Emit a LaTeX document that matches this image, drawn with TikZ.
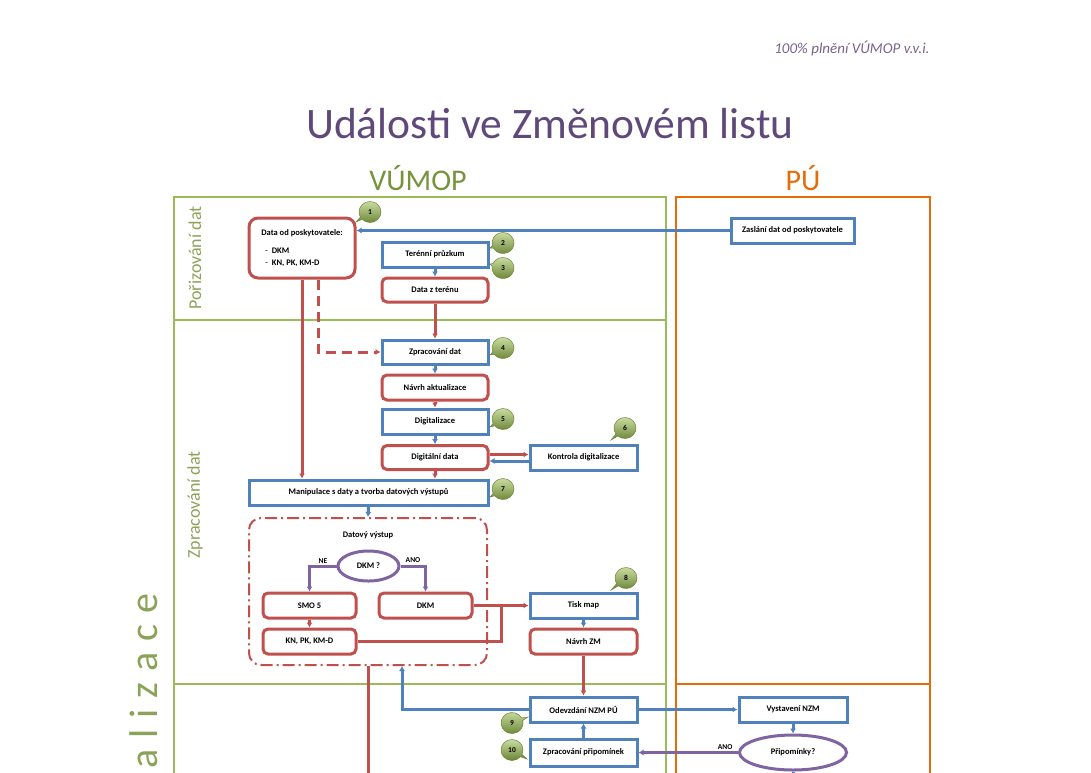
\documentclass[tikz,border=0pt]{standalone}
\usepackage{fontspec}
\setmainfont{Carlito}
\usetikzlibrary{shapes, shapes.callouts, positioning, calc, arrows.meta}

\definecolor{cervena}{HTML}{C0504D}
\definecolor{modra}{HTML}{4F81BD}
\definecolor{fialova}{HTML}{8064A2}
\definecolor{zelena}{HTML}{9BBB59}
\definecolor{tmavezelena}{HTML}{77933C}
\definecolor{svetlezelena}{HTML}{C9DCA0}
\definecolor{oranzova}{HTML}{E46C0A}
\definecolor{nadpis}{HTML}{5F497A}

\begin{document}
\begin{tikzpicture}[x=1pt, y=-1pt, > = {Latex[length=5pt, width=6pt]},
		krabice/.style = {fill=white, line width=3pt, font=\bfseries\fontsize{8.5}{10}\selectfont,
			minimum height=25pt, minimum width=106pt, inner sep=1pt},
		redbox/.style = {krabice, draw=cervena, rounded corners=5pt},
		bluebox/.style = {krabice, draw=modra},
		otazka/.style = {ellipse, draw=fialova, line width=3pt, fill=white,
			font=\bfseries\fontsize{8.5}{10}\selectfont, inner sep=0pt},
		redline/.style = {draw=cervena, line width=3pt},
		blueline/.style = {draw=modra, line width=3pt},
		purpleline/.style = {draw=fialova, line width=3pt},
		vetev/.style = {font=\bfseries\fontsize{7.5}{9}\selectfont, inner sep=1.5pt},
		badge/.style = {ellipse callout, draw=tmavezelena!90!black, line width=0.5pt, top color=svetlezelena,
			bottom color=tmavezelena!90!black, minimum width=22pt, minimum height=21pt, inner sep=0pt,
			font=\bfseries\fontsize{7.5}{8}\selectfont},
		lane/.style = {line width=2.8pt},
		lanetext/.style = {text=tmavezelena!85, font=\fontsize{18}{20}\selectfont, rotate=90}]
	\useasboundingbox (0,0) rectangle (1091,772);
	
	% hlavicka
	\node [font=\itshape\fontsize{15}{17}\selectfont, text=nadpis!85, anchor=base east] (plneni) at (933,53) {100\% plnění VÚMOP v.v.i.};
	\node [font=\fontsize{43.5}{48}\selectfont, text=nadpis, anchor=base] (nadpis) at (550,138) {Události ve Změnovém listu};
	\node [font=\fontsize{30}{34}\selectfont, text=tmavezelena, anchor=base] (vumop) at (418,190) {VÚMOP};
	\node [font=\fontsize{30}{34}\selectfont, text=oranzova, anchor=base] (pu) at (803,190) {PÚ};
	
	% drahy
	\draw [lane, draw=zelena] (174,800) -- (174,197) -- (666,197) -- (666,800);
	\draw [lane, draw=zelena] (174,320) -- (666,320);
	\draw [lane, draw=zelena] (174,684) -- (666,684);
	\draw [lane, draw=oranzova] (676,800) -- (676,197) -- (930,197) -- (930,800);
	\draw [lane, draw=oranzova] (676,684) -- (930,684);
	\node [lanetext] (porizovani) at (195,258) {Pořizování dat};
	\node [lanetext] (zpracovanidat) at (195,505) {Zpracování dat};
	\node [lanetext, font=\fontsize{40}{44}\selectfont, anchor=base] (realizace) at (157,681)
		{a\hspace{11pt}l\hspace{11pt}i\hspace{11pt}z\hspace{11pt}a\hspace{11pt}c\hspace{11pt}e};
	
	% porizovani dat
	\node [redbox, rounded corners=9pt, minimum height=60pt, align=left, font=\bfseries\fontsize{8.5}{12}\selectfont] (poskytovatel) at (302,248)
		{Data od poskytovatele:\\[6pt]
		\hspace{4pt}{\mdseries -}\hspace{4pt}DKM\\
		\hspace{4pt}{\mdseries -}\hspace{4pt}KN, PK, KM-D};
	\node [bluebox, minimum width=123pt] (zaslani) at (792.5,230.5) {Zaslání dat od poskytovatele};
	\node [bluebox] (pruzkum) at (435,254.5) {Terénní průzkum};
	\node [redbox, minimum height=24pt] (teren) at (435,290) {Data z terénu};
	
	% zpracovani dat
	\node [bluebox, minimum height=24pt] (zpracovani) at (435,352) {Zpracování dat};
	\node [redbox] (navrh) at (435,387.5) {Návrh aktualizace};
	\node [bluebox] (digitalizace) at (435,421.5) {Digitalizace};
	\node [redbox, minimum height=24pt] (digidata) at (435,457.5) {Digitální data};
	\node [bluebox, minimum width=107pt] (kontrola) at (583.5,457.5) {Kontrola digitalizace};
	\node [bluebox, minimum width=239pt] (manipulace) at (368.5,492.5) {Manipulace s daty a tvorba datových výstupů};
	
	% datovy vystup
	\node [draw=cervena, line width=2pt, dash pattern=on 12pt off 4pt on 2pt off 4pt, rounded corners=12pt,
		minimum width=238pt, minimum height=147pt] (vystup) at (368,591.5) {};
	\node [font=\bfseries\fontsize{8.5}{10}\selectfont] (vystupnazev) at (368,535) {Datový výstup};
	\node [otazka, minimum width=61pt, minimum height=30pt] (dkmq) at (368.5,566) {DKM ?};
	\node [redbox, minimum width=93pt] (smo) at (309.5,605.5) {SMO 5};
	\node [redbox, minimum width=93pt] (dkm) at (425.5,605.5) {DKM};
	\node [redbox, minimum width=93pt] (knpk) at (309.5,641.5) {KN, PK, KM-D};
	\node [bluebox, minimum width=107pt] (tisk) at (583.5,605.5) {Tisk map};
	\node [redbox, minimum width=107pt] (navrhzm) at (583.5,641.5) {Návrh ZM};
	
	% odevzdani
	\node [bluebox, minimum width=107pt] (odevzdani) at (583.5,709.5) {Odevzdání NZM PÚ};
	\node [bluebox, minimum width=107pt, minimum height=27pt] (pripominkyzp) at (583.5,752.5) {Zpracování připomínek};
	\node [bluebox, minimum width=108pt] (vystaveni) at (793,709.5) {Vystavení NZM};
	\node [otazka, minimum width=107pt, minimum height=35pt] (pripominky) at (793,752.5) {Připomínky?};
	
	% sipky
	\draw [blueline, ->] (zaslani.west) -- (zaslani.west -| poskytovatel.east);
	\draw [redline, ->] (poskytovatel.south) -- (poskytovatel.south |- manipulace.north);
	\draw [redline, dash pattern=on 10pt off 6pt, ->] ([xshift=16pt]poskytovatel.south) |- (zpracovani.west);
	\draw [blueline, ->] (pruzkum) -- (teren);
	\draw [redline, ->] (teren) -- (zpracovani);
	\draw [blueline, ->] (zpracovani) -- (navrh);
	\draw [redline, ->] (navrh) -- (digitalizace);
	\draw [blueline, ->] (digitalizace) -- (digidata);
	\draw [redline, ->] (digidata.south) -- (digidata.south |- manipulace.north);
	\draw [redline, ->] ([yshift=3pt]digidata.east) -- ([yshift=3pt]kontrola.west);
	\draw [blueline, ->] ([yshift=-3.5pt]kontrola.west) -- ([yshift=-3.5pt]digidata.east);
	\draw [blueline, ->] (manipulace.south) -- (vystup.north);
	\draw [purpleline, ->] (dkmq.west) -| node [vetev, pos=0.25, above] (ne) {NE} (smo.north);
	\draw [purpleline, ->] (dkmq.east) -| node [vetev, pos=0.25, above] (ano) {ANO} (dkm.north);
	\draw [redline, ->] (smo) -- (knpk);
	\draw [redline, ->] (dkm) -- (tisk);
	\coordinate (spoj) at ($(dkm.east)!0.5!(tisk.west)$);
	\draw [redline] (knpk.east) -| (spoj);
	\draw [blueline, ->] (tisk) -- (navrhzm);
	\draw [redline, ->] (navrhzm) -- (odevzdani);
	\draw [blueline, ->] (odevzdani.west) -| ([xshift=34pt]vystup.south);
	\coordinate (dole) at (368,800);
	\draw [redline] (vystup.south) -- (dole);
	\draw [blueline, ->] (odevzdani) -- (vystaveni);
	\draw [blueline, ->] (vystaveni) -- (pripominky);
	\draw [purpleline, ->] (pripominky.west) -- node [vetev, pos=0.13, above] (ano2) {ANO} (pripominkyzp.east);
	\draw [blueline, ->] (pripominkyzp) -- (odevzdani);
	\coordinate (dole2) at (793,800);
	\draw [blueline] (pripominky.south) -- (dole2);
	
	% cisla kroku
	\node [badge, callout absolute pointer={(356,222)}] (c1) at (370,212) {1};
	\node [badge, callout absolute pointer={(490,248)}] (c2) at (503,243) {2};
	\node [badge, callout absolute pointer={(490,264)}] (c3) at (503,268) {3};
	\node [badge, callout absolute pointer={(490,355)}] (c4) at (503,348) {4};
	\node [badge, callout absolute pointer={(490,427)}] (c5) at (503,419) {5};
	\node [badge, callout absolute pointer={(611,440)}] (c6) at (625,428) {6};
	\node [badge, callout absolute pointer={(490,497)}] (c7) at (503,489) {7};
	\node [badge, callout absolute pointer={(611,590)}] (c8) at (626,578) {8};
	\node [badge, callout absolute pointer={(528,717)}] (c9) at (512,723) {9};
	\node [badge, callout absolute pointer={(527,759)}] (c10) at (512,750) {10};
\end{tikzpicture}
\end{document}
